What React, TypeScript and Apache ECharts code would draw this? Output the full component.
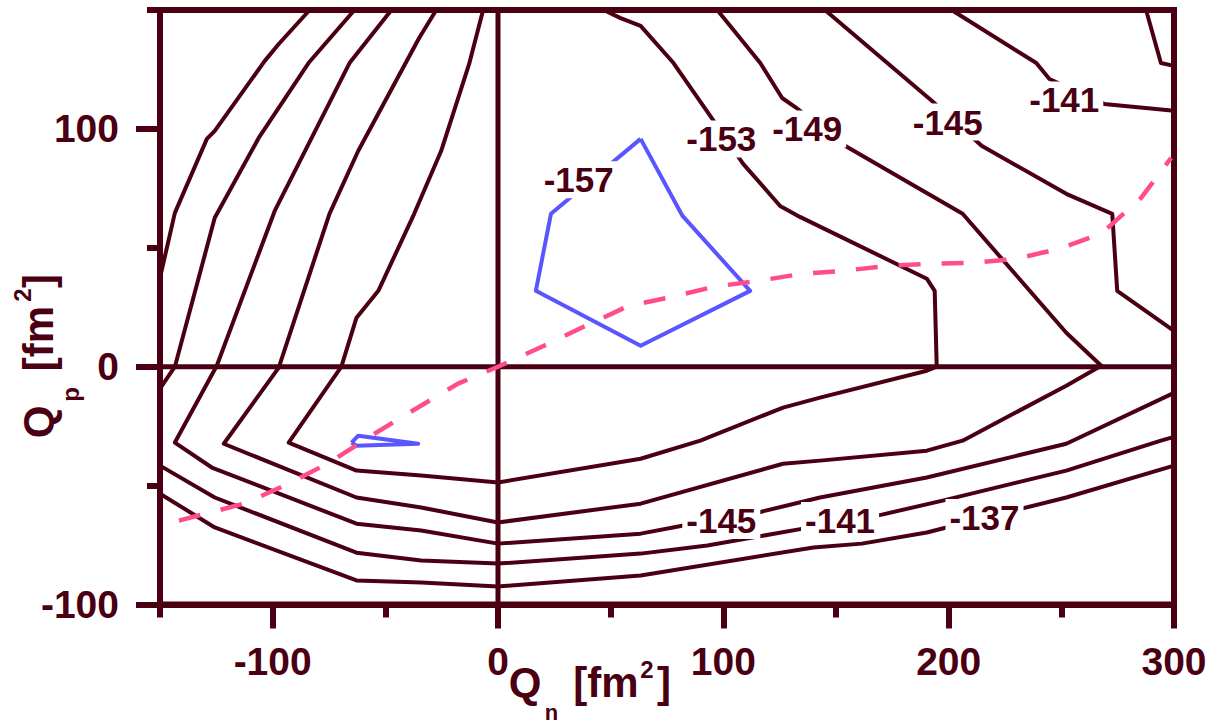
import { useEffect, useRef } from 'react';
import * as echarts from 'echarts';

// ---- axis ticks ----
const xMajorTicks = [-100, 0, 100, 200, 300];
const xMinorTicks = [-150, -50, 50, 150, 250];
const yMajorTicks = [-100, 0, 100];
const yMinorTicks = [-50, 50, 150];

// ---- zero lines ----
const zeroHorizontal = [[-150, 0], [300, 0]];
const zeroVertical = [[0, -100], [0, 150]];

// ---- contour lines (Q_n, Q_p) ----
const c137a = [[-83.6, 150], [-97.3, 135.7], [-103.5, 128.6], [-125.7, 99.2], [-129.2, 95.8], [-143.4, 64.7], [-150, 37.4]];
const c137b = [[-150, -53.4], [-125.7, -67.6], [-62.8, -89.9], [-34.1, -90.8], [0, -92.4], [63.3, -87.8], [140, -76], [161.5, -74.4], [190.3, -69.7], [199, -67.6], [232.3, -59.7], [252.2, -55], [300, -41.6]];
const c137c = [[287.6, 150], [294.2, 127.7], [300, 126.5]];

const c141a = [[-63.7, 150], [-84.1, 127.7], [-106.2, 96.2], [-125.7, 62.6], [-143.4, 0], [-150, -9.2]];
const c141b = [[-150, -41.6], [-125.7, -55], [-62.8, -78.2], [-34.1, -81.5], [0, -82.8], [63.3, -78.6], [92.9, -75.2], [135.4, -68.1], [170.4, -62.2], [197.3, -56.3], [252.2, -43.7], [294.2, -31.1], [300, -29.5]];
const c141c = [[201.3, 150], [238.9, 127.7], [244.7, 121], [269, 110.5], [300, 107.6]];

const c145a = [[-47.3, 150], [-65.9, 127.7], [-99.1, 65.5], [-124.8, 0.4], [-143.4, -31.9], [-127, -42.4], [-62.8, -66], [-34.1, -68.9], [0, -74.4], [63.3, -70.2], [82.3, -66.8], [115.5, -61.3], [142.9, -55], [190.3, -46.6], [252.2, -32.4], [300, -11]];
const c145b = [[145.1, 150], [192.5, 111.8], [214.6, 92.9], [252.2, 72.7], [272.6, 64.3], [274.8, 31.9], [300, 15.1]];

const c149 = [[-27.4, 150], [-35, 138.2], [-62, 90.8], [-74.8, 64.3], [-97.3, -0.4], [-121.7, -32.4], [-62.8, -55], [-34.1, -59.2], [0, -65.5], [63.3, -57.6], [126.5, -40.8], [142.9, -39.5], [190.3, -35.3], [206.2, -31.1], [252.2, -8], [267.7, 0.4], [252.2, 14.3], [206.2, 64.3], [154, 92.9], [131.9, 109.2], [126.1, 113], [116.4, 127.7], [97.3, 150]];

const c153 = [[-6.6, 150], [-12.8, 127.3], [-25.2, 90.8], [-37.2, 64.3], [-53.1, 31.9], [-62.8, 20.6], [-69.5, 0], [-92.9, -31.9], [-62.8, -43.7], [-34.1, -45.8], [0, -48.7], [63.3, -38.7], [89.8, -31.1], [126.5, -17.2], [142.9, -13], [190.3, -1.7], [194.7, 0], [193.8, 31.9], [190.3, 37], [134, 63], [125.2, 67.6], [108.8, 85.3], [95.1, 104.2], [77.9, 127.7], [63.3, 143.3], [54.4, 146.6], [46.9, 150]];

const c157a = [[63.3, 95.8], [81.9, 63.4], [111.9, 31.9], [63.3, 8.8], [16.8, 31.9], [23.5, 64.3], [63.3, 95.8]];
const c157b = [[-65, -31.9], [-62, -29], [-35.4, -32.4], [-62.8, -33.2], [-65, -31.9]];

// ---- dashed path ----
const dashedPath = [[-141.6, -64.7], [-112.8, -57.6], [-93.8, -49.6], [-74.8, -40.3], [-56.2, -29], [-37.2, -18.1], [-17.7, -7.1], [0, 0], [20.4, 8.8], [38.9, 17.2], [58, 25.6], [77.4, 29.4], [95.6, 33.6], [115.5, 36.1], [135, 39.1], [153, 40.3], [172.6, 42.4], [191.6, 43.3], [210.6, 43.7], [230, 45.4], [249, 49.6], [267.7, 55.9], [285.4, 71], [298.7, 87.8]];

// ---- contour labels ----
const labelTexts = ['-157', '-153', '-149', '-145', '-141', '-145', '-141', '-137'];
const labelX = [35.8, 99.1, 137.2, 199.6, 251.3, 99.1, 151.8, 215.9];
const labelY = [78.6, 95.8, 100, 102.9, 112.2, -64.7, -64.7, -63.4];

const MAROON = '#4a0012';
const BLUE = '#5a55ff';
const PINK = '#ff4d8b';
const FONT = '"Liberation Sans", Arial, Helvetica, sans-serif';

function titleText(text: string, x: number, y: number, size: number, rotation = 0) {
  return {
    type: 'text',
    x,
    y,
    rotation,
    silent: true,
    style: {
      text,
      fill: MAROON,
      font: `bold ${size}px ${FONT}`,
      align: 'center',
      verticalAlign: 'middle',
      textAlign: 'center',
      textVerticalAlign: 'middle',
    },
  };
}

export default function App() {
  const ref = useRef<HTMLDivElement>(null);
  useEffect(() => {
    const chart = echarts.init(ref.current!, null, { renderer: 'svg' });
    const contours = [c137a, c137b, c137c, c141a, c141b, c141c, c145a, c145b, c149, c153];
    const axisCommon = {
      type: 'value',
      splitLine: { show: false },
    };
    chart.setOption({
      animation: false,
      backgroundColor: '#ffffff',
      grid: {
        left: 160,
        top: 10,
        width: 1014,
        height: 594.5,
        show: true,
        borderColor: MAROON,
        borderWidth: 6,
        backgroundColor: 'transparent',
      },
      xAxis: [
        {
          ...axisCommon,
          min: -150,
          max: 300,
          position: 'bottom',
          axisLine: { show: true, onZero: false, lineStyle: { color: MAROON, width: 6 } },
          axisTick: { show: true, customValues: xMajorTicks, length: 24, lineStyle: { color: MAROON, width: 6 } },
          axisLabel: { show: true, customValues: xMajorTicks, fontSize: 39, fontWeight: 'bold', color: MAROON, fontFamily: FONT, margin: 37 },
        },
        {
          ...axisCommon,
          min: -150,
          max: 300,
          position: 'bottom',
          axisLine: { show: false, onZero: false },
          axisTick: { show: true, customValues: xMinorTicks, length: 13, lineStyle: { color: MAROON, width: 6 } },
          axisLabel: { show: false },
        },
      ],
      yAxis: [
        {
          ...axisCommon,
          min: -100,
          max: 150,
          position: 'left',
          axisLine: { show: true, onZero: false, lineStyle: { color: MAROON, width: 6 } },
          axisTick: { show: true, customValues: yMajorTicks, length: 24, lineStyle: { color: MAROON, width: 6 } },
          axisLabel: { show: true, customValues: yMajorTicks, fontSize: 39, fontWeight: 'bold', color: MAROON, fontFamily: FONT, margin: 41 },
        },
        {
          ...axisCommon,
          min: -100,
          max: 150,
          position: 'left',
          axisLine: { show: false, onZero: false },
          axisTick: { show: true, customValues: yMinorTicks, length: 13, lineStyle: { color: MAROON, width: 6 } },
          axisLabel: { show: false },
        },
      ],
      series: [
        { type: 'line', data: zeroHorizontal, symbol: 'none', silent: true, z: 2, lineStyle: { color: MAROON, width: 5 } },
        { type: 'line', data: zeroVertical, symbol: 'none', silent: true, z: 2, lineStyle: { color: MAROON, width: 5 } },
        ...contours.map((d) => ({
          type: 'line',
          data: d,
          symbol: 'none',
          silent: true,
          z: 3,
          lineStyle: { color: MAROON, width: 4, join: 'round' },
        })),
        ...[c157a, c157b].map((d) => ({
          type: 'line',
          data: d,
          symbol: 'none',
          silent: true,
          z: 4,
          lineStyle: { color: BLUE, width: 4, join: 'round' },
        })),
        {
          type: 'line',
          data: dashedPath,
          symbol: 'none',
          silent: true,
          z: 5,
          lineStyle: { color: PINK, width: 4.5, type: [22, 21] },
        },
        {
          type: 'scatter',
          symbolSize: 0,
          silent: true,
          z: 10,
          itemStyle: { opacity: 1 },
          data: labelTexts.map((t, i) => ({ name: t, value: [labelX[i], labelY[i]] })),
          label: {
            show: true,
            position: 'inside',
            formatter: '{b}',
            fontSize: 35,
            fontWeight: 'bold',
            fontFamily: FONT,
            color: MAROON,
            opacity: 1,
            backgroundColor: '#ffffff',
            padding: [1, 4, 1, 4],
          },
        },
      ],
      graphic: [
        // x-axis title: Q_n [fm^2]
        titleText('Q', 525, 682, 42),
        titleText('n', 551.5, 712, 22),
        titleText('[fm', 606, 682, 42),
        titleText('2', 647, 669, 24),
        titleText(']', 664, 682, 42),
        // y-axis title: Q_p [fm^2] (rotated)
        titleText('Q', 38, 422, 42, Math.PI / 2),
        titleText('p', 70, 394.5, 24, Math.PI / 2),
        titleText('[fm', 38, 338.5, 42, Math.PI / 2),
        titleText('2', 22.5, 295, 24, Math.PI / 2),
        titleText(']', 38, 281, 42, Math.PI / 2),
      ],
    });
    return () => chart.dispose();
  }, []);
  return (
    <div
      ref={ref}
      style={{ position: 'fixed', left: 0, top: 0, width: 1226, height: 724, background: '#fff' }}
    />
  );
}
